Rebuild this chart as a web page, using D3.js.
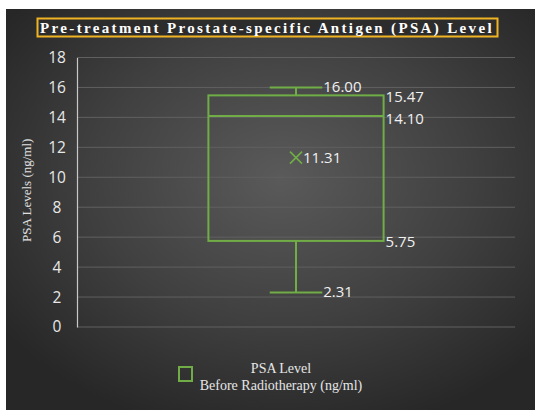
<!DOCTYPE html>
<html>
<head>
<meta charset="utf-8">
<script src="https://cdn.jsdelivr.net/npm/d3@7"></script>
<style>
  body { margin: 0; background: #fff; }
  svg { display: block; }
</style>
</head>
<body>
<div id="chart"></div>
<script>
// data
var categories = ["PSA Level Before Radiotherapy (ng/ml)"];
var minValues = [2.31];
var q1Values = [5.75];
var medianValues = [14.10];
var q3Values = [15.47];
var maxValues = [16.00];
var meanValues = [11.31];
var yTicks = [0, 2, 4, 6, 8, 10, 12, 14, 16, 18];

var width = 535, height = 410;
var green = "#70ad47";

var svg = d3.select("#chart").append("svg")
    .attr("width", width)
    .attr("height", height);

// background panel with soft radial light
var defs = svg.append("defs");
var grad = defs.append("radialGradient")
    .attr("id", "bg")
    .attr("cx", "52%").attr("cy", "42%").attr("r", "65%");
grad.append("stop").attr("offset", "0%").attr("stop-color", "#5a5a5a");
grad.append("stop").attr("offset", "55%").attr("stop-color", "#404040");
grad.append("stop").attr("offset", "100%").attr("stop-color", "#272727");

svg.append("rect")
    .attr("x", 6).attr("y", 9)
    .attr("width", width - 6).attr("height", height - 9)
    .attr("fill", "url(#bg)");

// title
svg.append("rect")
    .attr("x", 37.5).attr("y", 18.5)
    .attr("width", 460).attr("height", 18)
    .attr("fill", "#2c2c2c")
    .attr("stroke", "#f0b323")
    .attr("stroke-width", 2);

svg.append("text")
    .attr("x", 267).attr("y", 32.5)
    .attr("text-anchor", "middle")
    .attr("fill", "#ffffff")
    .attr("font-family", "'Liberation Serif', 'DejaVu Serif', serif")
    .attr("font-weight", "bold")
    .attr("font-size", 15)
    .attr("letter-spacing", 2.35)
    .text("Pre-treatment Prostate-specific Antigen (PSA) Level");

var plotLeft = 77, plotRight = 515, plotTop = 57.5, plotBottom = 327;

var y = d3.scaleLinear().domain([0, 18]).range([plotBottom, plotTop]);
var x = d3.scaleBand().domain(categories).range([plotLeft, plotRight]).paddingInner(0).paddingOuter(0.75);

// gridlines
svg.append("g")
    .selectAll("line")
    .data(yTicks)
    .enter().append("line")
    .attr("x1", plotLeft).attr("x2", plotRight)
    .attr("y1", function(d) { return y(d); })
    .attr("y2", function(d) { return y(d); })
    .attr("stroke", "#606060")
    .attr("stroke-width", 1);

// y axis
var yAxis = d3.axisLeft(y).tickValues(yTicks).tickSize(0).tickPadding(12);
var gy = svg.append("g")
    .attr("transform", "translate(" + plotLeft + ",0)")
    .call(yAxis);
gy.select(".domain").attr("stroke", "#c8c8c8").attr("stroke-width", 1.2);
gy.selectAll("text")
    .attr("fill", "#e8e8e8")
    .attr("font-family", "'Open Sans', sans-serif")
    .attr("font-size", 15.5)
    .attr("text-anchor", "middle")
    .attr("dx", -8);

svg.append("text")
    .attr("transform", "translate(31," + ((plotTop + plotBottom) / 2 - 2) + ") rotate(-90)")
    .attr("text-anchor", "middle")
    .attr("fill", "#e0e0e0")
    .attr("font-family", "'Liberation Serif', serif")
    .attr("font-size", 13)
    .text("PSA Levels (ng/ml)");

// box plots
var boxes = svg.append("g").selectAll("g")
    .data(categories)
    .enter().append("g");

boxes.each(function(c, i) {
    var g = d3.select(this);
    var x0 = x(c), bw = x.bandwidth(), cx = x0 + bw / 2;
    var capHalf = bw * 0.15;

    // whiskers
    g.append("line")
        .attr("x1", cx).attr("x2", cx)
        .attr("y1", y(maxValues[i])).attr("y2", y(q3Values[i]))
        .attr("stroke", green).attr("stroke-width", 2);
    g.append("line")
        .attr("x1", cx).attr("x2", cx)
        .attr("y1", y(q1Values[i])).attr("y2", y(minValues[i]))
        .attr("stroke", green).attr("stroke-width", 2);
    [maxValues[i], minValues[i]].forEach(function(v) {
        g.append("line")
            .attr("x1", cx - capHalf).attr("x2", cx + capHalf)
            .attr("y1", y(v)).attr("y2", y(v))
            .attr("stroke", green).attr("stroke-width", 2);
    });

    // box
    g.append("rect")
        .attr("x", x0).attr("y", y(q3Values[i]))
        .attr("width", bw).attr("height", y(q1Values[i]) - y(q3Values[i]))
        .attr("fill", "none")
        .attr("stroke", green).attr("stroke-width", 2);
    g.append("line")
        .attr("x1", x0).attr("x2", x0 + bw)
        .attr("y1", y(medianValues[i])).attr("y2", y(medianValues[i]))
        .attr("stroke", green).attr("stroke-width", 2);

    // mean marker
    var my = y(meanValues[i]), s = 6;
    g.append("path")
        .attr("d", "M" + (cx - s) + "," + (my - s) + "L" + (cx + s) + "," + (my + s) +
                   "M" + (cx - s) + "," + (my + s) + "L" + (cx + s) + "," + (my - s))
        .attr("stroke", green).attr("stroke-width", 1.6).attr("fill", "none");

    // value labels
    var labels = [
        { v: maxValues[i], x: cx + capHalf + 1, dy: 5 },
        { v: q3Values[i], x: x0 + bw + 2, dy: 6.5 },
        { v: medianValues[i], x: x0 + bw + 2, dy: 8.5 },
        { v: meanValues[i], x: cx + 7, dy: 5 },
        { v: q1Values[i], x: x0 + bw + 2, dy: 6 },
        { v: minValues[i], x: cx + capHalf + 1, dy: 5 }
    ];
    g.selectAll("text.val")
        .data(labels)
        .enter().append("text")
        .attr("class", "val")
        .attr("x", function(d) { return d.x; })
        .attr("y", function(d) { return y(d.v) + d.dy; })
        .attr("fill", "#f0f0f0")
        .attr("font-family", "'Open Sans', sans-serif")
        .attr("font-size", 15)
        .text(function(d) { return d.v.toFixed(2); });
});

// legend
svg.append("rect")
    .attr("x", 179).attr("y", 367)
    .attr("width", 13).attr("height", 14)
    .attr("fill", "none")
    .attr("stroke", green).attr("stroke-width", 2);
var lt = svg.append("text")
    .attr("text-anchor", "middle")
    .attr("fill", "#e6e6e6")
    .attr("font-family", "'Liberation Serif', serif")
    .attr("font-size", 14);
lt.append("tspan").attr("x", 281).attr("y", 373).text("PSA Level");
lt.append("tspan").attr("x", 281).attr("y", 390).text("Before Radiotherapy (ng/ml)");
</script>
</body>
</html>
